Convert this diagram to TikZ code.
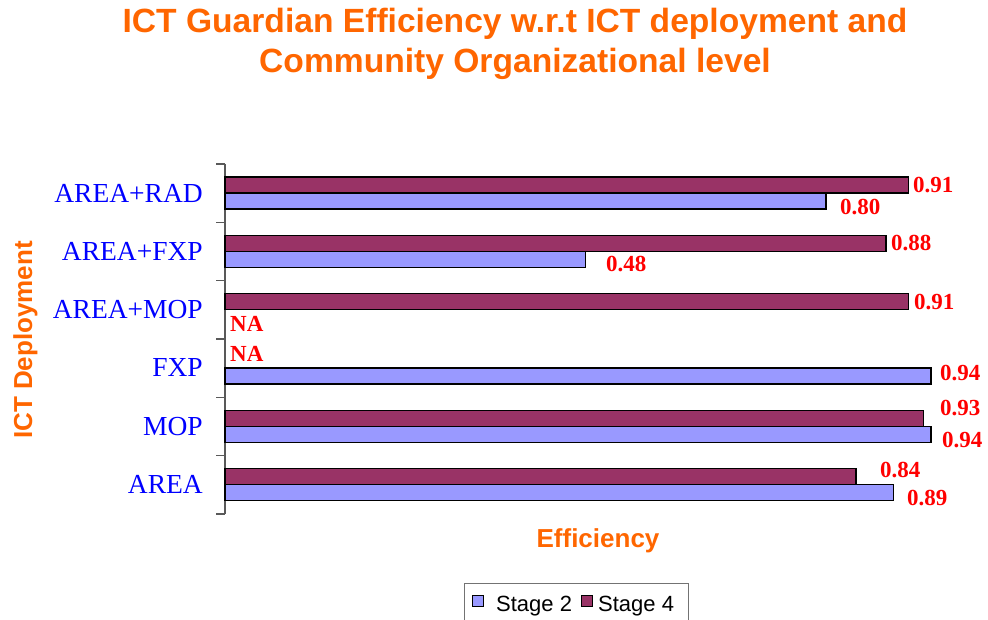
\documentclass[tikz,border=0pt]{standalone}
\usepackage{fontspec}
\setmainfont{Liberation Serif}
\newfontfamily\arialfont{Liberation Sans}
\definecolor{stagetwo}{HTML}{9999FF}
\definecolor{stagefour}{HTML}{993366}
\definecolor{titleorange}{HTML}{FF6600}
\tikzset{
  catlabel/.style={anchor=east, inner sep=0, text=blue, font=\fontsize{27.5}{27.5}\selectfont},
  vallabel/.style={anchor=west, inner sep=0, text=red, font=\bfseries\fontsize{23}{23}\selectfont},
  orangetitle/.style={anchor=base, inner sep=0, text=titleorange, font=\arialfont\bfseries\fontsize{#1}{#1}\selectfont},
  barfour/.style={fill=stagefour, draw=black, line width=1.5},
  bartwo/.style={fill=stagetwo, draw=black, line width=1.5},
  keybox/.style={draw=black, line width=1, inner sep=0, minimum size=11},
  keytext/.style={anchor=base west, inner sep=0, font=\arialfont\fontsize{22}{22}\selectfont},
}
\begin{document}
\begin{tikzpicture}[x=1pt, y=-1pt]
  \useasboundingbox (0,0) rectangle (988,620);
  % titles
  \node[orangetitle=33.6] (title1) at (515,33) {ICT Guardian Efficiency w.r.t ICT deployment and};
  \node[orangetitle=33.6] (title2) at (515,73) {Community Organizational level};
  \node[orangetitle=26, rotate=90] (ytitle) at (32,340) {ICT Deployment};
  \node[orangetitle=26] (xtitle) at (598,547) {Efficiency};
  % category axis
  \draw[line width=1.2, black!65] (225,164) -- (225,514);
  \foreach \k in {0,...,6}
    \draw[line width=1.2, black!65] (216,{164+58.33*\k}) -- (225,{164+58.33*\k});
  % bars, stage 4 on top and stage 2 below
  \foreach \i/\cat/\two/\four in {0/AREA+RAD/0.80/0.91, 1/AREA+FXP/0.48/0.88, 2/AREA+MOP/0/0.91,
                                  3/FXP/0.94/0, 4/MOP/0.94/0.93, 5/AREA/0.89/0.84} {
    \pgfmathsetmacro{\ymid}{193+58.33*\i}
    \node[catlabel] (cat\i) at (203,\ymid) {\cat};
    \ifdim\four pt>0pt \draw[barfour] (225,{\ymid-16}) rectangle ({225+751*\four},\ymid); \fi
    \ifdim\two pt>0pt \draw[bartwo] (225,\ymid) rectangle ({225+751*\two},{\ymid+16}); \fi
  }
  % data labels
  \node[vallabel] (v0a) at (913,185) {0.91};
  \node[vallabel] (v0b) at (840,207) {0.80};
  \node[vallabel] (v1a) at (891,243) {0.88};
  \node[vallabel] (v1b) at (606,264) {0.48};
  \node[vallabel] (v2a) at (914,302) {0.91};
  \node[vallabel] (v2b) at (230,324) {NA};
  \node[vallabel] (v3a) at (230,354) {NA};
  \node[vallabel] (v3b) at (940,373) {0.94};
  \node[vallabel] (v4a) at (940,408) {0.93};
  \node[vallabel] (v4b) at (942,440) {0.94};
  \node[vallabel] (v5a) at (880,470) {0.84};
  \node[vallabel] (v5b) at (907,498) {0.89};
  % legend
  \draw[line width=1, black!55] (464,630) -- (464,583) -- (688,583) -- (688,630);
  \node[keybox, fill=stagetwo] (key2) at (478,601) {};
  \node[keytext] (key2txt) at (496,611) {Stage 2};
  \node[keybox, fill=stagefour] (key4) at (587,601) {};
  \node[keytext] (key4txt) at (598,611) {Stage 4};
\end{tikzpicture}
\end{document}
